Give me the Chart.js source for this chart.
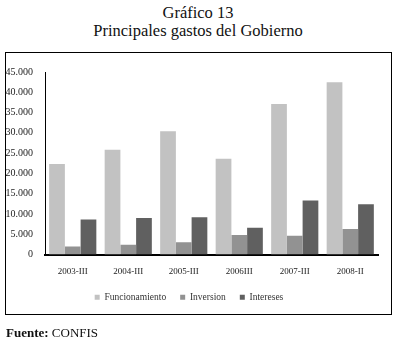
<!DOCTYPE html>
<html><head><meta charset="utf-8">
<script src="https://cdn.jsdelivr.net/npm/chart.js@4/dist/chart.umd.min.js"></script>
<style>
html,body{margin:0;padding:0;background:#fff;}
body{width:396px;height:340px;position:relative;overflow:hidden;font-family:'Liberation Serif',serif;}
#t1,#t2{position:absolute;left:0;width:396px;text-align:center;font-size:16.5px;color:#111;font-family:'Liberation Serif',serif;}
#t1{top:3px;}
#t2{top:21px;}
#box{position:absolute;left:5px;top:52px;width:385px;height:261px;border:1.5px solid #000;}
#cv{position:absolute;left:0;top:0;}
#src{position:absolute;left:6px;top:325px;font-size:13px;color:#111;font-family:'Liberation Serif',serif;}
</style></head>
<body>
<div id="t1">Gráfico 13</div>
<div id="t2">Principales gastos del Gobierno</div>
<div id="box"></div>
<canvas id="cv" width="396" height="340"></canvas>
<div id="src"><b>Fuente:</b> CONFIS</div>
<script>
const categories = ["2003-III","2004-III","2005-III","2006III","2007-III","2008-II"];
const funcionamiento = [22300,25800,30400,23600,37100,42500];
const inversion = [2000,2400,3000,4800,4600,6300];
const intereses = [8600,9000,9200,6600,13300,12400];
const yTicks = [0,5000,10000,15000,20000,25000,30000,35000,40000,45000];

Chart.defaults.font.family = "'Liberation Serif', serif";
Chart.defaults.color = '#222';
new Chart(document.getElementById('cv'), {
  type: 'bar',
  data: {
    labels: categories,
    datasets: [
      {label:'Funcionamiento', data: funcionamiento, backgroundColor:'#c2c2c2'},
      {label:'Inversion', data: inversion, backgroundColor:'#929292'},
      {label:'Intereses', data: intereses, backgroundColor:'#606060'}
    ]
  },
  options: {
    responsive:false, animation:false,
    layout:{padding:{left:0,right:18,top:72,bottom:28}},
    datasets:{bar:{categoryPercentage:0.85,barPercentage:1.0}},
    plugins:{
      legend:{position:'bottom',labels:{boxWidth:5,boxHeight:5,font:{size:9.5},padding:14,color:'#333'}},
      tooltip:{enabled:false}
    },
    scales:{
      x:{grid:{display:false},border:{display:true,color:'#000',width:2},
         ticks:{font:{size:9},color:'#222',padding:4},
         afterFit(a){a.height=24;}},
      y:{min:0,max:45000,grid:{display:false},border:{display:true,color:'#000',width:1},
         afterBuildTicks(a){a.ticks=yTicks.map(v=>({value:v}));},
         ticks:{font:{size:10},color:'#222',padding:4,
           callback:(v)=>v===0?'0':v.toLocaleString('de-DE')},
         afterFit(a){a.width=45;}}
    }
  }
});
</script>
</body></html>
